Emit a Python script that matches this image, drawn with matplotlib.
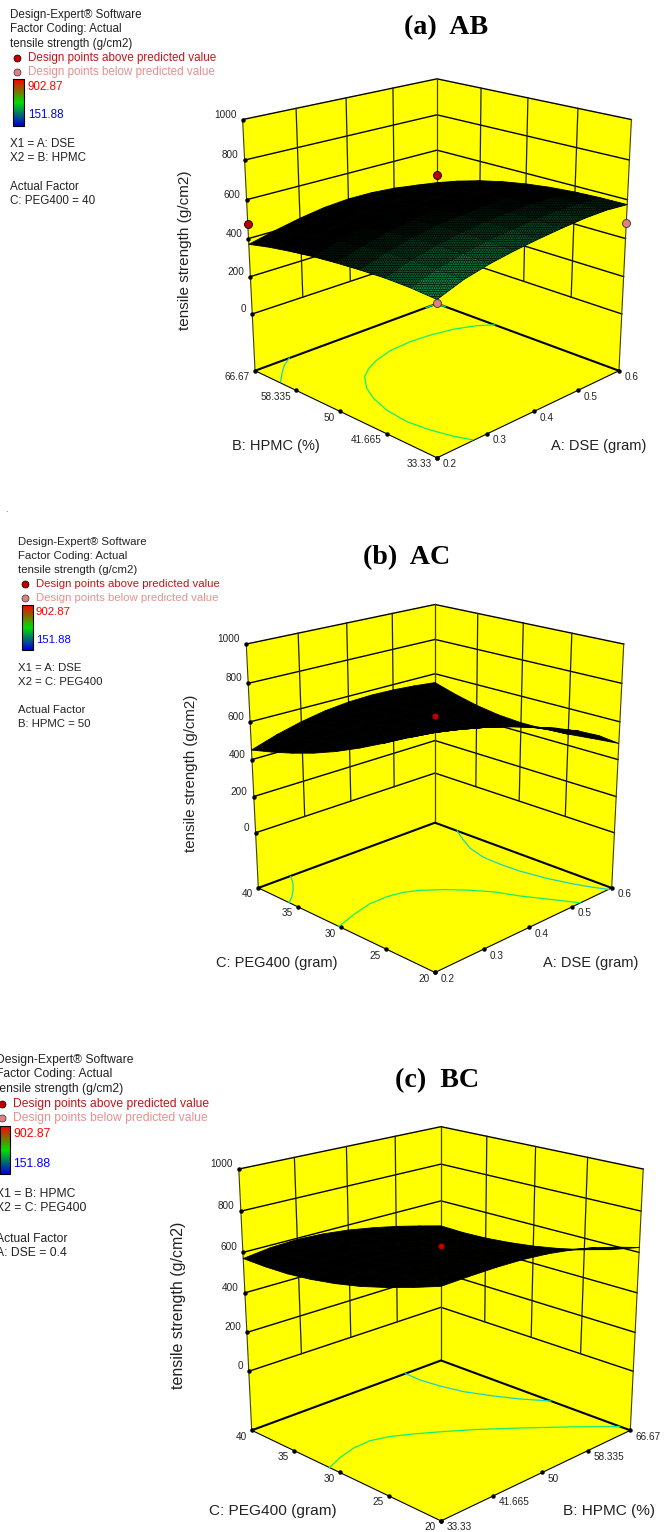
import numpy as np
import matplotlib
matplotlib.use('Agg')
import matplotlib.pyplot as plt
from matplotlib.colors import LinearSegmentedColormap
from mpl_toolkits.mplot3d import proj3d

plt.rcParams['font.family'] = ['Liberation Sans', 'DejaVu Sans']

# --- axis ticks ----------------------------------------------------------
dse_ticks = [0.2, 0.3, 0.4, 0.5, 0.6]
dse_labels = ['0.2', '0.3', '0.4', '0.5', '0.6']
hpmc_ticks = [33.33, 41.665, 50, 58.335, 66.67]
hpmc_labels = ['33.33', '41.665', '50', '58.335', '66.67']
peg_ticks = [20, 25, 30, 35, 40]
peg_labels = ['20', '25', '30', '35', '40']
z_ticks = [0, 200, 400, 600, 800, 1000]
z_floor = -312

# --- response surfaces, rows = second factor, columns = first factor ------
surf_ab = [[443, 490, 520, 541, 557, 570, 580, 583, 575],
           [452, 497, 527, 549, 564, 576, 583, 583, 574],
           [454, 497, 528, 550, 565, 575, 580, 579, 569],
           [449, 492, 523, 545, 560, 569, 573, 570, 559],
           [441, 482, 513, 536, 551, 559, 560, 555, 543],
           [430, 469, 500, 522, 536, 543, 542, 534, 521],
           [414, 451, 482, 504, 517, 522, 518, 507, 492],
           [395, 430, 459, 480, 492, 494, 487, 473, 456],
           [370, 402, 430, 451, 461, 460, 450, 432, 413]]
surf_ac = [[839, 818, 790, 756, 718, 675, 625, 564, 486],
           [778, 765, 743, 716, 684, 646, 600, 544, 474],
           [714, 708, 694, 673, 647, 614, 574, 524, 461],
           [653, 655, 648, 634, 614, 586, 552, 508, 453],
           [598, 607, 608, 601, 587, 566, 537, 499, 452],
           [551, 568, 577, 577, 570, 554, 531, 500, 461],
           [512, 537, 554, 562, 562, 553, 536, 512, 481],
           [479, 514, 539, 555, 562, 560, 550, 533, 511],
           [451, 495, 529, 554, 568, 573, 570, 561, 548]]
surf_bc = [[744, 748, 750, 747, 737, 719, 694, 661, 624],
           [700, 706, 708, 704, 693, 674, 648, 615, 578],
           [661, 668, 671, 667, 656, 636, 610, 578, 542],
           [627, 637, 641, 637, 625, 606, 580, 548, 513],
           [601, 613, 617, 613, 601, 582, 556, 525, 490],
           [582, 595, 600, 596, 584, 564, 539, 508, 474],
           [570, 586, 591, 586, 573, 553, 527, 497, 463],
           [567, 583, 588, 584, 570, 549, 523, 492, 459],
           [570, 588, 594, 588, 574, 552, 526, 495, 462]]

# --- contours on the floor ----------------------------------------------
ab_main_a = [0.6, 0.576, 0.537, 0.492, 0.449, 0.401, 0.361, 0.331, 0.306, 0.28, 0.264, 0.251, 0.246, 0.251, 0.261, 0.272]
ab_main_b = [55.2, 56.8, 58.2, 59.0, 59.3, 59.0, 58.0, 56.8, 55.3, 52.5, 49.8, 46.2, 42.3, 38.8, 35.7, 33.5]
ab_side_a = [0.268, 0.246, 0.225, 0.203]
ab_side_b = [66.67, 65.4, 63.7, 61.7]
ab_back_a = [0.573, 0.588, 0.6, 0.6]
ab_back_b = [66.67, 66.67, 66.1, 65.0]
ac_main_a = [0.2, 0.241, 0.286, 0.323, 0.352, 0.377, 0.405, 0.43, 0.455, 0.473, 0.497, 0.521]
ac_main_c = [30.2, 30.9, 31.5, 31.5, 31.2, 30.5, 29.3, 27.9, 26.2, 24.2, 22.1, 20.0]
ac_right_a = [0.6, 0.581, 0.558, 0.546, 0.544, 0.546, 0.555, 0.568, 0.581, 0.592]
ac_right_c = [37.2, 35.7, 33.6, 31.5, 29.5, 27.4, 24.9, 22.7, 21.1, 20.0]
ac_side_a = [0.265, 0.25, 0.234, 0.217, 0.2]
ac_side_c = [39.9, 38.7, 37.7, 36.8, 36.1]
bc_main_b = [33.33, 35.96, 38.81, 41.64, 44.23, 46.81, 49.99, 53.36, 57.48, 62.13, 66.67]
bc_main_c = [31.1, 31.8, 32.3, 32.4, 31.9, 31.0, 29.7, 28.2, 26.1, 23.6, 21.0]
bc_top_b = [59.79, 59.57, 60.01, 60.82, 62.57, 64.31, 66.67]
bc_top_c = [40.0, 38.2, 36.1, 34.0, 31.7, 29.8, 27.8]

# --- design points -------------------------------------------------------
ab_above = [[0.6, 66.67, 460], [0.2, 66.67, 474]]
ab_below = [[0.6, 33.33, 479], [0.2, 33.33, 428]]
ac_above = [[0.4, 30, 633]]
bc_above = [[50, 30, 630]]

RED = '#c00000'
PINK = '#e08080'
GREEN = '#10f070'
CYAN = '#10d8c0'
FP = 72 / 100


def to_screen(ax, x, y, z):
    sx, sy, _ = proj3d.proj_transform(x, y, z, ax.get_proj())
    return sx, sy


def panel(center, width, x_ticks, x_labels, y_ticks, y_labels, z_grid):
    left = center[0] - 0.095 / 0.185 * width
    bottom = center[1] + 0.095 / 0.185 * width
    ax = fig.add_axes([left / 665, 1 - bottom / 1532, width / 665, width / 1532],
                      projection='3d', computed_zorder=False)
    ax.set_axis_off()
    ax.patch.set_visible(False)
    ax.set_proj_type('persp', focal_length=0.55)
    ax.view_init(elev=19.3, azim=-135)
    ax.set_box_aspect((1, 1, 1))
    xa, xb, ya, yb = x_ticks[0], x_ticks[-1], y_ticks[0], y_ticks[-1]
    ax.set_xlim(xa, xb, view_margin=0)
    ax.set_ylim(ya, yb, view_margin=0)
    ax.set_zlim(z_floor, 1000, view_margin=0)

    # walls and floor
    zz = np.array([z_floor, 1000])
    gx, gz = np.meshgrid([xa, xb], zz)
    ax.plot_surface(gx, np.full_like(gx, yb, dtype=float), gz, color='#ffff00', shade=False, lw=0, zorder=1)
    gy, gz = np.meshgrid([ya, yb], zz)
    ax.plot_surface(np.full_like(gy, xb, dtype=float), gy, gz, color='#ffff00', shade=False, lw=0, zorder=1)
    gx, gy = np.meshgrid([xa, xb], [ya, yb])
    ax.plot_surface(gx, gy, np.full_like(gx, z_floor, dtype=float), color='#ffff00', shade=False, lw=0, zorder=1)

    # grid on the walls, from z=0 up
    for z in z_ticks:
        ax.plot([xa, xb, xb], [yb, yb, ya], [z, z, z], color='k', lw=1.0, zorder=2)
    for x in x_ticks[1:-1]:
        ax.plot([x, x], [yb, yb], [0, 1000], color='#202000', lw=0.9, zorder=2)
    for y in y_ticks[1:-1]:
        ax.plot([xb, xb], [y, y], [0, 1000], color='#202000', lw=0.9, zorder=2)
    # box edges
    ax.plot([xa, xa], [yb, yb], [z_floor, 1000], color='#404000', lw=0.8, zorder=2)
    ax.plot([xb, xb], [ya, ya], [z_floor, 1000], color='#404000', lw=0.8, zorder=2)
    ax.plot([xb, xb], [yb, yb], [z_floor, 1000], color='#404000', lw=0.9, zorder=2)
    ax.plot([xa, xb, xb], [yb, yb, ya], [z_floor] * 3, color='k', lw=1.5, zorder=3)
    ax.plot([xa, xa, xb], [yb, ya, ya], [z_floor] * 3, color='k', lw=0.8, zorder=3)

    # tick dots and labels
    for x, t in zip(x_ticks, x_labels):
        ax.plot([x], [ya], [z_floor], 'o', color='k', ms=2.2, zorder=3)
        sx, sy = to_screen(ax, x, ya, z_floor)
        ax.annotate(t, (sx, sy), xytext=(5.5, -6.5), textcoords='offset pixels', fontsize=10 * FP,
                    color='#222222', ha='left', va='center', annotation_clip=False)
    for y, t in zip(y_ticks, y_labels):
        ax.plot([xa], [y], [z_floor], 'o', color='k', ms=2.2, zorder=3)
        sx, sy = to_screen(ax, xa, y, z_floor)
        ax.annotate(t, (sx, sy), xytext=(-5, -6.5), textcoords='offset pixels', fontsize=10 * FP,
                    color='#222222', ha='right', va='center', annotation_clip=False)
    for z in z_ticks:
        ax.plot([xa], [yb], [z], 'o', color='k', ms=2.2, zorder=3)
        sx, sy = to_screen(ax, xa, yb, z)
        ax.annotate(str(z), (sx, sy), xytext=(-6, 5), textcoords='offset pixels', fontsize=10 * FP,
                    color='#222222', ha='right', va='center', annotation_clip=False)

    # surface
    mx, my = np.meshgrid(np.linspace(xa, xb, 9), np.linspace(ya, yb, 9))
    ax.plot_surface(mx, my, np.array(z_grid, dtype=float), color='k', edgecolor='k', lw=0.6,
                    shade=False, rstride=1, cstride=1, zorder=6)
    return ax


def points(ax, pts, color, edge):
    for p in pts:
        ax.plot([p[0]], [p[1]], [p[2]], 'o', color=color, ms=8 * FP, mec=edge, mew=0.6, zorder=8)


fig = plt.figure(figsize=(6.65, 15.32), dpi=100)
bg = fig.add_axes([0, 0, 1, 1])
bg.set_xlim(0, 665)
bg.set_ylim(1532, 0)
bg.axis('off')

# --- panels --------------------------------------------------------------
ax_a = panel((437, 249.3), 447, dse_ticks, dse_labels, hpmc_ticks, hpmc_labels, surf_ab)
ax_a.plot(ab_main_a, ab_main_b, [z_floor] * len(ab_main_a), color=GREEN, lw=0.9, zorder=4)
ax_a.plot(ab_side_a, ab_side_b, [z_floor] * len(ab_side_a), color=CYAN, lw=0.9, zorder=4)
ax_a.plot(ab_back_a, ab_back_b, [z_floor] * len(ab_back_a), color=CYAN, lw=0.9, zorder=4)
# green shows through the mesh near the front corner and fades towards the back
cell_x = np.linspace(0.2, 0.6, 9)
cell_y = np.linspace(33.33, 66.67, 9)
surf_arr = np.array(surf_ab, dtype=float)
for j in range(8):
    for i in range(8):
        glow = 1 - (0.8 * i + 1.7 * j) / 9
        if glow <= 0:
            continue
        fx, fy = np.meshgrid(cell_x[i:i + 2], cell_y[j:j + 2])
        cell = ax_a.plot_surface(fx, fy, surf_arr[j:j + 2, i:i + 2], color='k',
                                 edgecolor=(0.05 * glow, 0.8 * glow ** 1.5, 0.4 * glow ** 1.5), lw=0,
                                 shade=False, zorder=7)
        cell.set_hatch('.......')
points(ax_a, ab_above, RED, 'k')
points(ax_a, ab_below, PINK, '#303030')

ax_b = panel((435, 770), 434, dse_ticks, dse_labels, peg_ticks, peg_labels, surf_ac)
ax_b.plot(ac_main_a, ac_main_c, [z_floor] * len(ac_main_a), color=GREEN, lw=0.9, zorder=4)
ax_b.plot(ac_right_a, ac_right_c, [z_floor] * len(ac_right_a), color=CYAN, lw=0.9, zorder=4)
ax_b.plot(ac_side_a, ac_side_c, [z_floor] * len(ac_side_a), color=CYAN, lw=0.9, zorder=4)
for p in ac_above:
    ax_b.plot([p[0]], [p[1]], [p[2]], 'o', color=RED, ms=6 * FP, mew=0, zorder=8)

ax_c = panel((441, 1304), 465, hpmc_ticks, hpmc_labels, peg_ticks, peg_labels, surf_bc)
ax_c.plot(bc_main_b, bc_main_c, [z_floor] * len(bc_main_b), color=GREEN, lw=0.9, zorder=4)
ax_c.plot(bc_top_b, bc_top_c, [z_floor] * len(bc_top_b), color=CYAN, lw=0.9, zorder=4)
for p in bc_above:
    ax_c.plot([p[0]], [p[1]], [p[2]], 'o', color=RED, ms=6 * FP, mew=0, zorder=8)

# --- titles --------------------------------------------------------------
for x, y, t in [(446, 28, '(a)  AB'), (407, 558, '(b)  AC'), (437, 1081, '(c)  BC')]:
    bg.text(x, y, t, family='Liberation Serif', weight='bold', fontsize=28 * FP, ha='center', va='center')

# --- axis names ----------------------------------------------------------
axis_names = [(185, 250, 'tensile strength (g/cm2)', 90, 15.3), (191, 773, 'tensile strength (g/cm2)', 90, 15),
              (178, 1305, 'tensile strength (g/cm2)', 90, 16),
              (276, 446, 'B: HPMC (%)', 0, 14.6), (599, 446, 'A: DSE (gram)', 0, 14.6),
              (277, 963, 'C: PEG400 (gram)', 0, 14.6), (591, 963, 'A: DSE (gram)', 0, 14.6),
              (272.5, 1510.5, 'C: PEG400 (gram)', 0, 15.4), (608.7, 1510.5, 'B: HPMC (%)', 0, 15.4)]
for x, y, t, rot, size in axis_names:
    bg.text(x, y, t, rotation=rot, fontsize=size * FP, color='#222222', ha='center', va='center')

# --- legends -------------------------------------------------------------
legend_x = [10, 18.5, -3.5]
legend_dot = [17, 25, 2]
legend_pts = [28, 36, 13.3]
legend_size = [11.6, 11.35, 12.1]
legend_bar = [(13.3, 24, 79.3, 125.7), (22, 32.7, 605, 650), (0, 9.5, 1126, 1174)]
legend_rows = [[15, 29, 44, 58, 72, 87, 115, 144, 158, 187, 201],
               [541.7, 556, 570, 584, 598, 611.7, 640, 667.7, 682, 710, 724],
               [1060, 1074, 1089, 1103.5, 1118, 1134, 1164, 1194, 1208, 1239, 1253]]
factor_lines = [('X1 = A: DSE', 'X2 = B: HPMC', 'C: PEG400 = 40'),
                ('X1 = A: DSE', 'X2 = C: PEG400', 'B: HPMC = 50'),
                ('X1 = B: HPMC', 'X2 = C: PEG400', 'A: DSE = 0.4')]
bar_cmap = LinearSegmentedColormap.from_list('bar', ['#0000e0', '#00e000', '#ff0000'])
for i in range(3):
    x0 = legend_x[i]
    rows = legend_rows[i]
    size = legend_size[i] * FP
    head = ['Design-Expert® Software', 'Factor Coding: Actual', 'tensile strength (g/cm2)']
    for y, t in zip(rows[:3], head):
        bg.text(x0, y, t, fontsize=size, color='#222222', va='center')
    for y, t in zip(rows[7:], [factor_lines[i][0], factor_lines[i][1], 'Actual Factor', factor_lines[i][2]]):
        bg.text(x0, y, t, fontsize=size, color='#222222', va='center')
    bg.plot(legend_dot[i], rows[3], 'o', color=RED, ms=7 * FP, mec='k', mew=0.5, clip_on=False)
    bg.plot(legend_dot[i], rows[4], 'o', color=PINK, ms=7 * FP, mec='#303030', mew=0.5, clip_on=False)
    bg.text(legend_pts[i], rows[3], 'Design points above predicted value', fontsize=size, color='#c01818', va='center')
    bg.text(legend_pts[i], rows[4], 'Design points below predicted value', fontsize=size, color='#e89090', va='center')
    b = legend_bar[i]
    bg.imshow(np.linspace(1, 0, 50)[:, None], cmap=bar_cmap, aspect='auto',
              extent=(b[0], b[1], b[3], b[2]), zorder=2)
    bg.plot([b[0], b[1], b[1], b[0], b[0]], [b[2], b[2], b[3], b[3], b[2]], color='k', lw=0.8, zorder=3)
    bg.text(legend_pts[i], rows[5], '902.87', fontsize=size, color='#ff0000', va='center')
    bg.text(legend_pts[i], rows[6], '151.88', fontsize=size, color='#0000ff', va='center')
bg.set_xlim(0, 665)
bg.set_ylim(1532, 0)
bg.text(6, 511, '.', fontsize=6, color='#444444', ha='center', va='center')

fig.savefig('out.png', dpi=100)
